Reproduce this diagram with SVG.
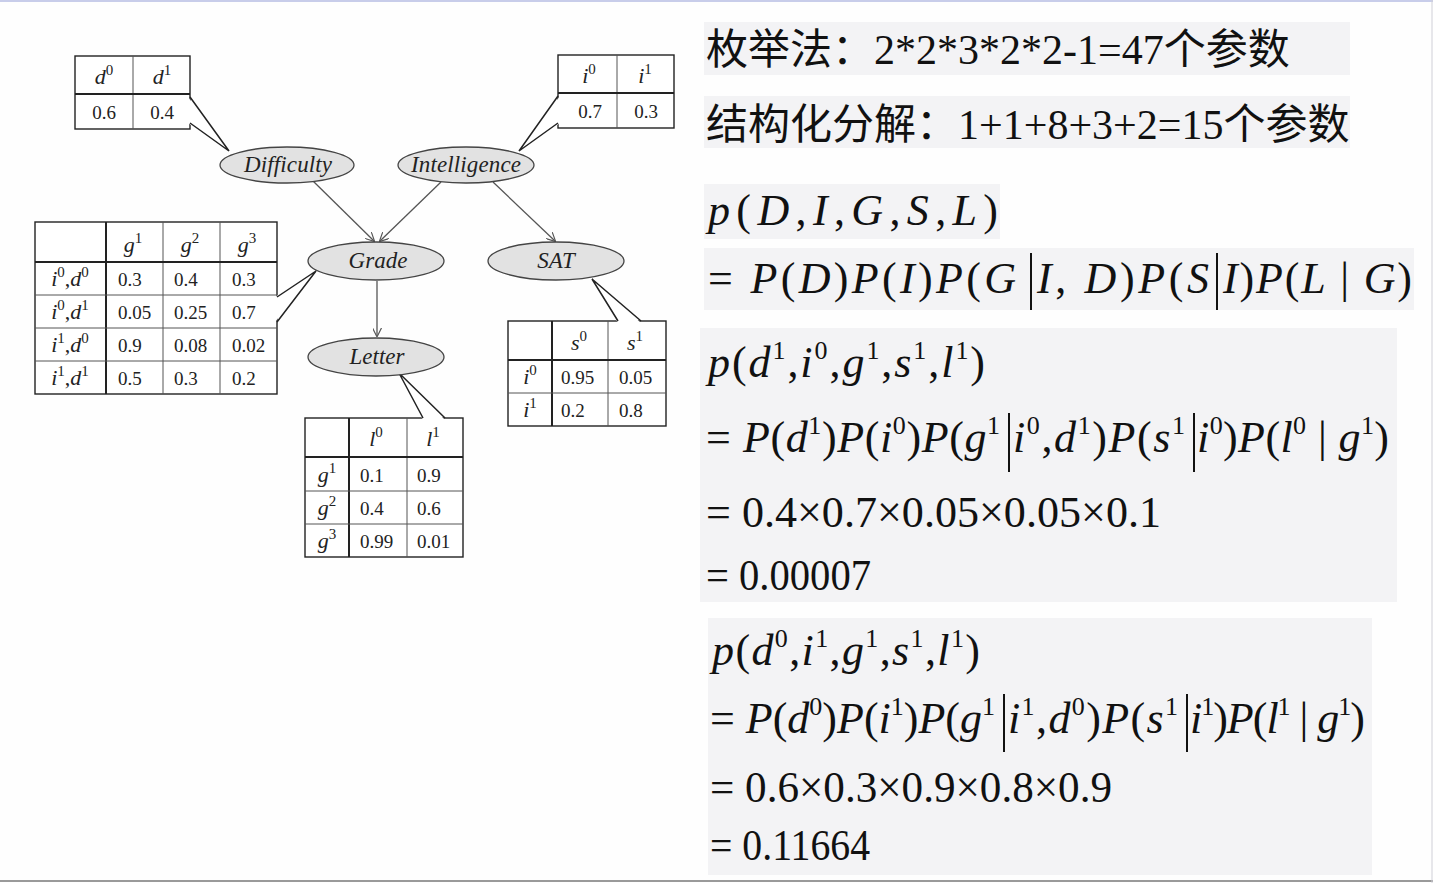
<svg xmlns="http://www.w3.org/2000/svg" width="1433" height="883" viewBox="0 0 1433 883">
<style>
.bg{fill:#f3f3f5}
.tb{fill:#fff;stroke:#222;stroke-width:1.4}
.ln{stroke:#555;stroke-width:1}
.lk{stroke:#222;stroke-width:2}
.v{font-family:"Liberation Serif","Times New Roman",serif;font-size:19px;fill:#222}
.h{font-family:"Liberation Serif","Times New Roman",serif;font-size:22px;font-style:italic;fill:#222}
.c{text-anchor:middle}
.sup{font-size:15px;font-style:normal}
.nd{fill:#e2e2e2;stroke:#444;stroke-width:1.3}
.nl{font-family:"Liberation Serif","Times New Roman",serif;font-size:23px;font-style:italic;fill:#222;text-anchor:middle}
.tailf{fill:#fff;stroke:none}
.tail{fill:none;stroke:#222;stroke-width:1.5}
.edge{stroke:#555;stroke-width:1.3;fill:none;marker-end:url(#arr)}
.cn{font-family:"Noto Sans CJK SC",sans-serif;font-size:42px;fill:#111}
.num{font-family:"Liberation Serif","Times New Roman",serif;font-size:42px;fill:#111}
.m{font-family:"Liberation Serif","Times New Roman",serif;font-size:44px;fill:#111}
.i{font-style:italic}
.s{font-size:26px;font-style:normal}
.bar{stroke:#111;stroke-width:2}
</style>
<defs>
<marker id="arr" viewBox="0 0 10 10" refX="9" refY="5" markerWidth="9" markerHeight="9" orient="auto" markerUnits="userSpaceOnUse">
<path d="M0,0 L10,5 L0,10" fill="none" stroke="#555" stroke-width="1.3"/>
</marker>
</defs>
<rect x="0" y="0" width="1433" height="883" fill="#fefefe"/>
<line x1="0" y1="1" x2="1433" y2="1" stroke="#c8cdea" stroke-width="2"/>
<line x1="0" y1="881" x2="1433" y2="881" stroke="#9a9a9a" stroke-width="2"/>
<line x1="1432" y1="0" x2="1432" y2="883" stroke="#d0d0d8" stroke-width="1"/>

<!-- right side backgrounds -->
<rect class="bg" x="704" y="22" width="646" height="53"/>
<rect class="bg" x="704" y="96" width="646" height="52"/>
<rect class="bg" x="704" y="184" width="296" height="55"/>
<rect class="bg" x="704" y="248" width="710" height="62"/>
<rect class="bg" x="700" y="328" width="697" height="274"/>
<rect class="bg" x="708" y="618" width="664" height="257"/>

<!-- connectors -->
<g id="connectors">
<line class="edge" x1="313" y1="181" x2="374" y2="241"/>
<line class="edge" x1="441" y1="182" x2="380" y2="241"/>
<line class="edge" x1="493" y1="182" x2="555" y2="241"/>
<line class="edge" x1="377" y1="281" x2="377" y2="336"/>
</g>

<!-- table D -->
<g id="cpd-d">
<rect class="tb" x="75" y="56" width="115" height="73"/>
<line class="ln" x1="133" y1="56" x2="133" y2="129"/>
<line class="lk" x1="75" y1="94" x2="190" y2="94"/>
<text class="h c" x="104" y="84">d<tspan class="sup" dy="-9">0</tspan></text>
<text class="h c" x="162" y="84">d<tspan class="sup" dy="-9">1</tspan></text>
<text class="v c" x="104" y="119">0.6</text>
<text class="v c" x="162" y="119">0.4</text>
<path class="tailf" d="M188,97 L229,151 L188,123 Z"/>
<path class="tail" d="M190,97 L229,151 L190,123"/>
</g>

<!-- table I -->
<g id="cpd-i">
<rect class="tb" x="558" y="55" width="116" height="73"/>
<line class="ln" x1="617" y1="55" x2="617" y2="128"/>
<line class="lk" x1="558" y1="93" x2="674" y2="93"/>
<text class="h c" x="589" y="83">i<tspan class="sup" dy="-9">0</tspan></text>
<text class="h c" x="645" y="83">i<tspan class="sup" dy="-9">1</tspan></text>
<text class="v c" x="590" y="118">0.7</text>
<text class="v c" x="646" y="118">0.3</text>
<path class="tailf" d="M560,96 L519,151 L560,123 Z"/>
<path class="tail" d="M558,96 L519,151 L558,123"/>
</g>

<!-- table G -->
<g id="cpd-g">
<rect class="tb" x="35" y="222" width="242" height="172"/>
<line class="lk" x1="106" y1="222" x2="106" y2="394"/>
<line class="ln" x1="163" y1="222" x2="163" y2="394"/>
<line class="ln" x1="220" y1="222" x2="220" y2="394"/>
<line class="lk" x1="35" y1="262" x2="277" y2="262"/>
<line class="ln" x1="35" y1="295" x2="277" y2="295"/>
<line class="ln" x1="35" y1="328" x2="277" y2="328"/>
<line class="ln" x1="35" y1="361" x2="277" y2="361"/>
<text class="h c" x="133" y="252">g<tspan class="sup" dy="-9">1</tspan></text>
<text class="h c" x="190" y="252">g<tspan class="sup" dy="-9">2</tspan></text>
<text class="h c" x="247" y="252">g<tspan class="sup" dy="-9">3</tspan></text>
<text class="h c" x="70" y="286">i<tspan class="sup" dy="-9">0</tspan><tspan dy="9" style="font-style:normal">,</tspan>d<tspan class="sup" dy="-9">0</tspan></text>
<text class="h c" x="70" y="319">i<tspan class="sup" dy="-9">0</tspan><tspan dy="9" style="font-style:normal">,</tspan>d<tspan class="sup" dy="-9">1</tspan></text>
<text class="h c" x="70" y="352">i<tspan class="sup" dy="-9">1</tspan><tspan dy="9" style="font-style:normal">,</tspan>d<tspan class="sup" dy="-9">0</tspan></text>
<text class="h c" x="70" y="385">i<tspan class="sup" dy="-9">1</tspan><tspan dy="9" style="font-style:normal">,</tspan>d<tspan class="sup" dy="-9">1</tspan></text>
<text class="v" x="118" y="286">0.3</text><text class="v" x="174" y="286">0.4</text><text class="v" x="232" y="286">0.3</text>
<text class="v" x="118" y="319">0.05</text><text class="v" x="174" y="319">0.25</text><text class="v" x="232" y="319">0.7</text>
<text class="v" x="118" y="352">0.9</text><text class="v" x="174" y="352">0.08</text><text class="v" x="232" y="352">0.02</text>
<text class="v" x="118" y="385">0.5</text><text class="v" x="174" y="385">0.3</text><text class="v" x="232" y="385">0.2</text>
<path class="tailf" d="M275,297 L316,271 L275,322 Z"/>
<path class="tail" d="M277,297 L316,271 L277,322"/>
</g>

<!-- table S -->
<g id="cpd-s">
<rect class="tb" x="508" y="321" width="158" height="105"/>
<line class="lk" x1="552" y1="321" x2="552" y2="426"/>
<line class="ln" x1="608" y1="321" x2="608" y2="426"/>
<line class="lk" x1="508" y1="360" x2="666" y2="360"/>
<line class="ln" x1="508" y1="393" x2="666" y2="393"/>
<text class="h c" x="579" y="350">s<tspan class="sup" dy="-9">0</tspan></text>
<text class="h c" x="635" y="350">s<tspan class="sup" dy="-9">1</tspan></text>
<text class="h c" x="530" y="384">i<tspan class="sup" dy="-9">0</tspan></text>
<text class="h c" x="530" y="417">i<tspan class="sup" dy="-9">1</tspan></text>
<text class="v" x="561" y="384">0.95</text><text class="v" x="619" y="384">0.05</text>
<text class="v" x="561" y="417">0.2</text><text class="v" x="619" y="417">0.8</text>
<path class="tailf" d="M618,323 L592,279 L641,323 Z"/>
<path class="tail" d="M618,321 L592,279 L641,321"/>
</g>

<!-- table L -->
<g id="cpd-l">
<rect class="tb" x="305" y="418" width="158" height="139"/>
<line class="lk" x1="349" y1="418" x2="349" y2="557"/>
<line class="ln" x1="407" y1="418" x2="407" y2="557"/>
<line class="lk" x1="305" y1="457" x2="463" y2="457"/>
<line class="ln" x1="305" y1="491" x2="463" y2="491"/>
<line class="ln" x1="305" y1="524" x2="463" y2="524"/>
<text class="h c" x="376" y="446">l<tspan class="sup" dy="-9">0</tspan></text>
<text class="h c" x="433" y="446">l<tspan class="sup" dy="-9">1</tspan></text>
<text class="h c" x="327" y="482">g<tspan class="sup" dy="-9">1</tspan></text>
<text class="h c" x="327" y="515">g<tspan class="sup" dy="-9">2</tspan></text>
<text class="h c" x="327" y="548">g<tspan class="sup" dy="-9">3</tspan></text>
<text class="v" x="360" y="482">0.1</text><text class="v" x="417" y="482">0.9</text>
<text class="v" x="360" y="515">0.4</text><text class="v" x="417" y="515">0.6</text>
<text class="v" x="360" y="548">0.99</text><text class="v" x="417" y="548">0.01</text>
<path class="tailf" d="M423,420 L399,373 L445,420 Z"/>
<path class="tail" d="M423,418 L399,373 L445,418"/>
</g>

<!-- nodes -->
<g id="node-difficulty"><ellipse class="nd" cx="287" cy="165" rx="67" ry="18"/><text class="nl" x="288" y="172" textLength="88">Difficulty</text></g>
<g id="node-intelligence"><ellipse class="nd" cx="466" cy="165" rx="68" ry="18"/><text class="nl" x="466" y="172" textLength="110">Intelligence</text></g>
<g id="node-grade"><ellipse class="nd" cx="376" cy="261" rx="68" ry="19"/><text class="nl" x="378" y="268">Grade</text></g>
<g id="node-sat"><ellipse class="nd" cx="556" cy="261" rx="68" ry="19"/><text class="nl" x="556" y="268">SAT</text></g>
<g id="node-letter"><ellipse class="nd" cx="376" cy="357" rx="68" ry="19"/><text class="nl" x="377" y="364">Letter</text></g>

<!-- right text -->
<g id="params">
<text x="706" y="64"><tspan class="cn">枚举法：</tspan><tspan class="num">2*2*3*2*2-1=47</tspan><tspan class="cn">个参数</tspan></text>
<text x="706" y="139"><tspan class="cn">结构化分解：</tspan><tspan class="num">1+1+8+3+2=15</tspan><tspan class="cn">个参数</tspan></text>
</g>

<g id="formula1" class="m">
<text x="708" y="225" textLength="290" lengthAdjust="spacing"><tspan class="i">p</tspan>(<tspan class="i">D</tspan>,<tspan class="i">I</tspan>,<tspan class="i">G</tspan>,<tspan class="i">S</tspan>,<tspan class="i">L</tspan>)</text>
<text x="708" y="293" textLength="308" lengthAdjust="spacing">= <tspan class="i">P</tspan>(<tspan class="i">D</tspan>)<tspan class="i">P</tspan>(<tspan class="i">I</tspan>)<tspan class="i">P</tspan>(<tspan class="i">G</tspan></text>
<line class="bar" x1="1031" y1="253" x2="1031" y2="310"/>
<text x="1037" y="293" textLength="172" lengthAdjust="spacing"><tspan class="i">I</tspan>, <tspan class="i">D</tspan>)<tspan class="i">P</tspan>(<tspan class="i">S</tspan></text>
<line class="bar" x1="1217" y1="253" x2="1217" y2="310"/>
<text x="1223" y="293" textLength="189" lengthAdjust="spacing"><tspan class="i">I</tspan>)<tspan class="i">P</tspan>(<tspan class="i">L</tspan> | <tspan class="i">G</tspan>)</text>
</g>

<g id="formula2" class="m">
<text x="708" y="377" textLength="277" lengthAdjust="spacing"><tspan class="i">p</tspan>(<tspan class="i">d</tspan><tspan class="s" dy="-18">1</tspan><tspan dy="18">,</tspan><tspan class="i">i</tspan><tspan class="s" dy="-18">0</tspan><tspan dy="18">,</tspan><tspan class="i">g</tspan><tspan class="s" dy="-18">1</tspan><tspan dy="18">,</tspan><tspan class="i">s</tspan><tspan class="s" dy="-18">1</tspan><tspan dy="18">,</tspan><tspan class="i">l</tspan><tspan class="s" dy="-18">1</tspan><tspan dy="18">)</tspan></text>
<text x="706" y="452" textLength="294" lengthAdjust="spacing">= <tspan class="i">P</tspan>(<tspan class="i">d</tspan><tspan class="s" dy="-18">1</tspan><tspan dy="18">)</tspan><tspan class="i">P</tspan>(<tspan class="i">i</tspan><tspan class="s" dy="-18">0</tspan><tspan dy="18">)</tspan><tspan class="i">P</tspan>(<tspan class="i">g</tspan><tspan class="s" dy="-18">1</tspan></text>
<line class="bar" x1="1009" y1="413" x2="1009" y2="472"/>
<text x="1013" y="452" textLength="172" lengthAdjust="spacing"><tspan class="i">i</tspan><tspan class="s" dy="-18">0</tspan><tspan dy="18">,</tspan><tspan class="i">d</tspan><tspan class="s" dy="-18">1</tspan><tspan dy="18">)</tspan><tspan class="i">P</tspan>(<tspan class="i">s</tspan><tspan class="s" dy="-18">1</tspan></text>
<line class="bar" x1="1194" y1="413" x2="1194" y2="472"/>
<text x="1197" y="452" textLength="192" lengthAdjust="spacing"><tspan class="i">i</tspan><tspan class="s" dy="-18">0</tspan><tspan dy="18">)</tspan><tspan class="i">P</tspan>(<tspan class="i">l</tspan><tspan class="s" dy="-18">0</tspan><tspan dy="18"> | </tspan><tspan class="i">g</tspan><tspan class="s" dy="-18">1</tspan><tspan dy="18">)</tspan></text>
<text x="706" y="527" textLength="455" lengthAdjust="spacingAndGlyphs">= 0.4×0.7×0.05×0.05×0.1</text>
<text x="706" y="590" textLength="165" lengthAdjust="spacingAndGlyphs">= 0.00007</text>
</g>

<g id="formula3" class="m">
<text x="712" y="665" textLength="268" lengthAdjust="spacing"><tspan class="i">p</tspan>(<tspan class="i">d</tspan><tspan class="s" dy="-18">0</tspan><tspan dy="18">,</tspan><tspan class="i">i</tspan><tspan class="s" dy="-18">1</tspan><tspan dy="18">,</tspan><tspan class="i">g</tspan><tspan class="s" dy="-18">1</tspan><tspan dy="18">,</tspan><tspan class="i">s</tspan><tspan class="s" dy="-18">1</tspan><tspan dy="18">,</tspan><tspan class="i">l</tspan><tspan class="s" dy="-18">1</tspan><tspan dy="18">)</tspan></text>
<text x="710" y="733" textLength="285" lengthAdjust="spacing">= <tspan class="i">P</tspan>(<tspan class="i">d</tspan><tspan class="s" dy="-18">0</tspan><tspan dy="18">)</tspan><tspan class="i">P</tspan>(<tspan class="i">i</tspan><tspan class="s" dy="-18">1</tspan><tspan dy="18">)</tspan><tspan class="i">P</tspan>(<tspan class="i">g</tspan><tspan class="s" dy="-18">1</tspan></text>
<line class="bar" x1="1004" y1="694" x2="1004" y2="752"/>
<text x="1008" y="733" textLength="170" lengthAdjust="spacing"><tspan class="i">i</tspan><tspan class="s" dy="-18">1</tspan><tspan dy="18">,</tspan><tspan class="i">d</tspan><tspan class="s" dy="-18">0</tspan><tspan dy="18">)</tspan><tspan class="i">P</tspan>(<tspan class="i">s</tspan><tspan class="s" dy="-18">1</tspan></text>
<line class="bar" x1="1187" y1="694" x2="1187" y2="752"/>
<text x="1190" y="733" textLength="175" lengthAdjust="spacing"><tspan class="i">i</tspan><tspan class="s" dy="-18">1</tspan><tspan dy="18">)</tspan><tspan class="i">P</tspan>(<tspan class="i">l</tspan><tspan class="s" dy="-18">1</tspan><tspan dy="18"> | </tspan><tspan class="i">g</tspan><tspan class="s" dy="-18">1</tspan><tspan dy="18">)</tspan></text>
<text x="710" y="802" textLength="402" lengthAdjust="spacingAndGlyphs">= 0.6×0.3×0.9×0.8×0.9</text>
<text x="710" y="860" textLength="160" lengthAdjust="spacingAndGlyphs">= 0.11664</text>
</g>
</svg>
